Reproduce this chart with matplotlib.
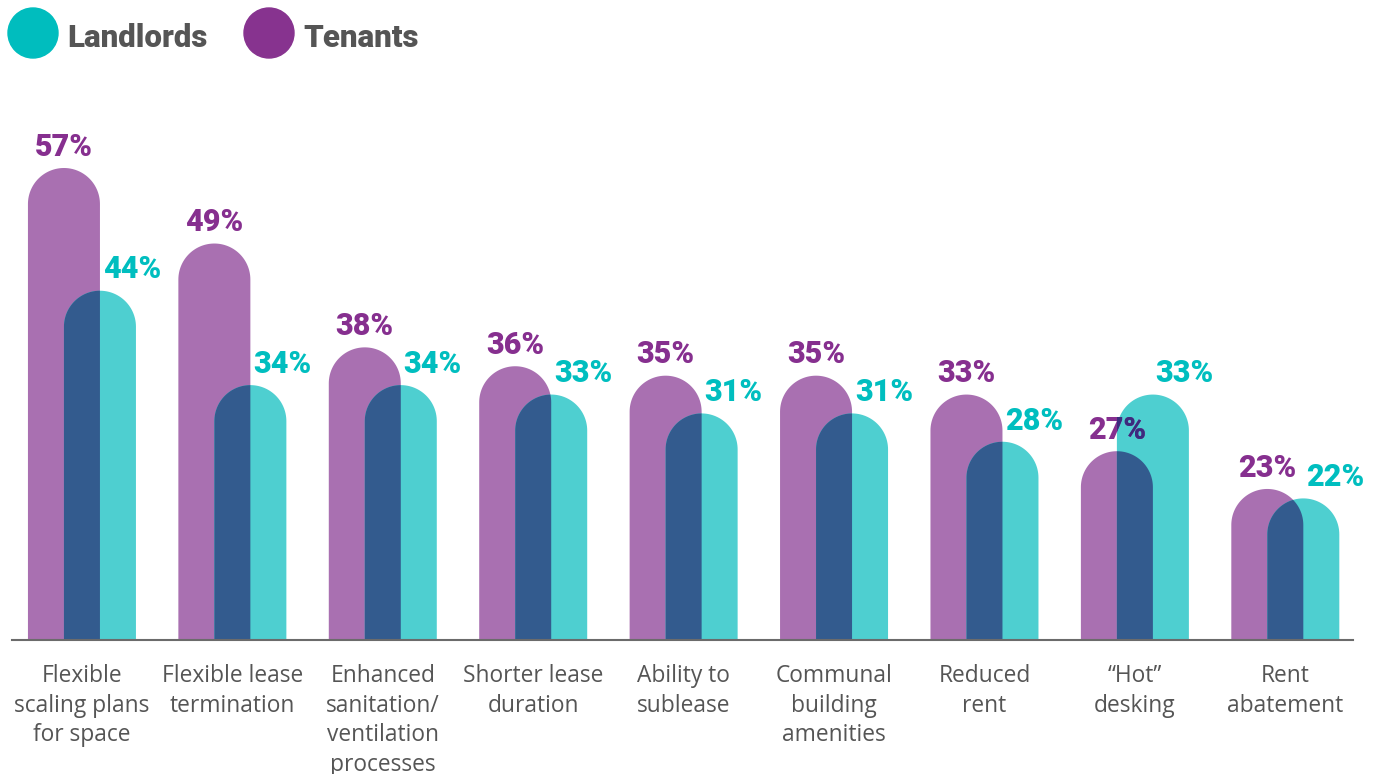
import numpy as np
import matplotlib
matplotlib.use("Agg")
import matplotlib.pyplot as plt
from matplotlib.patches import Polygon, Circle
from matplotlib.transforms import Bbox, TransformedBbox, ScaledTranslation

categories = ["Flexible\nscaling plans\nfor space", "Flexible lease\ntermination",
              "Enhanced\nsanitation/\nventilation\nprocesses", "Shorter lease\nduration",
              "Ability to\nsublease", "Communal\nbuilding\namenities", "Reduced\nrent",
              "\u201cHot\u201d\ndesking", "Rent\nabatement"]
tenants = [57, 49, 38, 36, 35, 35, 33, 27, 23]
landlords = [44, 34, 34, 33, 31, 31, 28, 33, 22]

purple_bar = "#A970B1"
teal_bar = "#4ECFD0"
overlap = "#335B8E"
purple_txt = "#862F8F"
teal_txt = "#00BEBF"
gray_txt = "#555555"

W, H = 1376, 774
fig = plt.figure(figsize=(W / 100, H / 100), dpi=100)
ax = fig.add_axes([12 / W, (H - 640) / H, (1353 - 12) / W, (640 - 60) / H])
ybot, ytop = 7, 7 + 580 / 9.44
ax.set_ylim(ybot, ytop)
ax.set_xlim(-0.465, 8.45)
ax.axis("off")
ax.axhline(ybot, color="#6b6b6b", lw=1.5, zorder=5, clip_on=False)

px_x = (1353 - 12) / (8.45 + 0.465)
px_y = 580 / (ytop - ybot)
hw = 36 / px_x          # half bar width in x units
off = 18 / px_x         # bars overlap by half their width
ry = 36 / px_y          # cap radius in y units


def bar_shape(xc, top, color, z):
    t = np.linspace(np.pi, 0, 60)
    pts = [(xc - hw, ybot)]
    pts += list(zip(xc + hw * np.cos(t), top - ry + ry * np.sin(t)))
    pts += [(xc + hw, ybot)]
    p = Polygon(pts, closed=True, facecolor=color, edgecolor="none", zorder=z)
    ax.add_patch(p)
    return p


bold = ["Roboto", "DejaVu Sans"]
lab_font = dict(family=bold, weight="black", fontsize=22)
up = ScaledTranslation(0, 4.5 / 72, fig.dpi_scale_trans)
up_r = ScaledTranslation(2 / 72, 4.5 / 72, fig.dpi_scale_trans)
for i in range(len(categories)):
    xp, xl = i - off, i + off
    pp = bar_shape(xp, tenants[i], purple_bar, 2)
    bar_shape(xl, landlords[i], teal_bar, 2)
    ov = bar_shape(xl, landlords[i], overlap, 3)
    ov.set_clip_path(pp)

    ax.text(xp, tenants[i], f"{tenants[i]}%", ha="center", va="bottom", color=purple_txt,
            zorder=6, transform=ax.transData + up, **lab_font)
    # darker part of the tenant label where it sits over the landlord bar
    dark = ax.text(xp, tenants[i], f"{tenants[i]}%", ha="center", va="bottom", color="#3B2C7E",
                   zorder=7, transform=ax.transData + up, **lab_font)
    dark.set_clip_on(True)
    dark.set_clip_box(TransformedBbox(Bbox([[xl - hw, ybot], [xl + hw, landlords[i] - ry * 0.35]]),
                                      ax.transData))
    ax.text(xl, landlords[i], f"{landlords[i]}%", ha="left", va="bottom", color=teal_txt,
            zorder=6, transform=ax.transData + up_r, **lab_font)

    ax.annotate(categories[i], (i, ybot), xytext=(0, -17.5), textcoords="offset points",
                ha="center", va="top", color=gray_txt, fontsize=16.4, linespacing=1.31,
                family=["Open Sans", "DejaVu Sans"], annotation_clip=False)

# legend
fig.patches.append(Circle((33, H - 33), 25, transform=None, color="#00BDBE"))
fig.patches.append(Circle((269, H - 33), 25, transform=None, color="#87338F"))
fig.text(67 / W, 1 - 38 / H, "Landlords", ha="left", va="center", color=gray_txt,
         fontsize=22.5, family=bold, weight="black")
fig.text(303 / W, 1 - 38 / H, "Tenants", ha="left", va="center", color=gray_txt,
         fontsize=22.5, family=bold, weight="black")

fig.savefig("out.png", dpi=100)
